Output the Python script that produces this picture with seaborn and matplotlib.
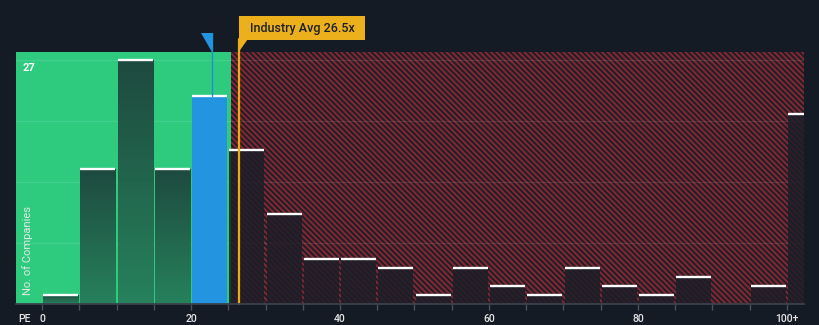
import numpy as np
import pandas as pd
import matplotlib
matplotlib.use("Agg")
import matplotlib.pyplot as plt
import matplotlib.transforms as mtransforms
from matplotlib.patches import Polygon, Rectangle
from matplotlib.colors import LinearSegmentedColormap
import seaborn as sns

# P/E distribution of peer companies (bins of width 5; last bin is 100+)
bin_starts = [0, 5, 10, 15, 20, 25, 30, 35, 40, 45, 50, 55, 60, 65, 70, 75, 80, 85, 90, 95, 100]
company_counts = [1, 15, 27, 15, 23, 17, 10, 5, 5, 4, 1, 4, 2, 1, 4, 2, 1, 3, 0, 2, 21]
tick_values = [0, 20, 40, 60, 80, 100]
tick_labels = ["0", "20", "40", "60", "80", "100+"]
company_pe = 22.8
industry_avg = 26.5
fair_upper = 25.4
y_label_value = 27

BG = "#151b25"
GREEN = "#2ecb7f"
BLUE = "#2394e0"
RED_HATCH = "#7a2832"
YELLOW = "#ecb01c"

sns.set_theme(style="dark")
plt.rcParams["font.family"] = ["Roboto", "DejaVu Sans"]
plt.rcParams["hatch.linewidth"] = 1.6

df = pd.DataFrame({"pe": np.array(bin_starts, dtype=float) + 2.5,
                   "n": np.array(company_counts, dtype=float)})
edges = [float(b) for b in bin_starts] + [105.0]

fig = plt.figure(figsize=(8.2, 3.25), dpi=100, facecolor=BG)
ax = fig.add_axes([16 / 820, 21 / 325, 788 / 820, 252 / 325])
ax.set_facecolor(BG)

sns.histplot(data=df, x="pe", weights="n", bins=edges, shrink=0.94, ax=ax,
             linewidth=0)
bars = list(ax.patches)
for p in bars:
    p.set_zorder(3)

x_lo, x_hi = -3.5, 102.3
y_top = 27.9

# valuation zones
ax.axvspan(x_lo, fair_upper, color=GREEN, lw=0, zorder=0)
ax.axvspan(fair_upper, x_hi + 5, facecolor="#1b1c26", edgecolor=RED_HATCH,
           hatch="\\" * 6, lw=0, zorder=0)

# horizontal guides
for g in np.linspace(0, y_label_value, 5)[1:]:
    ax.axhline(g, color="white", alpha=0.1, lw=0.9, zorder=1)

grad = LinearSegmentedColormap.from_list("bar", ["#1e4a3f", "#26815c"])
grad_img = np.linspace(0, 1, 64).reshape(-1, 1)

for p in bars:
    x0, w, h = p.get_x(), p.get_width(), p.get_height()
    if h <= 0:
        p.set_visible(False)
        continue
    if x0 <= company_pe < x0 + w + 0.3:
        p.set_facecolor(BLUE)
        p.set_alpha(1)
    elif x0 + w <= fair_upper:
        p.set_facecolor("none")
        im = ax.imshow(grad_img, cmap=grad, aspect="auto", origin="upper",
                       extent=[x0, x0 + w, 0, h], zorder=3)
        im.set_clip_path(p)
    else:
        p.set_facecolor("#1d1e28")
        p.set_alpha(0.86)
    ax.hlines(h, x0, x0 + w, color="white", lw=1.7, zorder=4)

ax.set_xlim(x_lo, x_hi)
ax.set_ylim(0, y_top)

trans = mtransforms.blended_transform_factory(ax.transData, ax.transAxes)

# company marker
blue_h = [p.get_height() for p in bars
          if p.get_x() <= company_pe < p.get_x() + p.get_width() + 0.3][0]
ax.axvline(company_pe, ymin=blue_h / y_top, ymax=1.075, color="#1f8fd6",
           lw=1.0, clip_on=False, zorder=5)
ax.add_patch(Polygon([(company_pe - 1.42, 1.075), (company_pe + 0.05, 1.075),
                      (company_pe + 0.05, 1.0)], closed=True, transform=trans,
                     facecolor=BLUE, edgecolor="none", clip_on=False, zorder=6))

# industry average marker and label
ax.axvline(industry_avg, ymin=0, ymax=1.05, color="#f0a818", lw=1.6,
           clip_on=False, zorder=5)
ax.add_patch(Rectangle((industry_avg - 0.1, 1.048), 17.0, 0.093, transform=trans,
                       facecolor=YELLOW, edgecolor="none", clip_on=False, zorder=6))
ax.add_patch(Polygon([(industry_avg - 0.1, 1.05), (industry_avg + 1.1, 1.05),
                      (industry_avg - 0.1, 1.0)], closed=True, transform=trans,
                     facecolor=YELLOW, edgecolor="none", clip_on=False, zorder=6))
ax.text(industry_avg + 8.4, 1.094, f"Industry Avg {industry_avg}x", transform=trans,
        ha="center", va="center", fontsize=9, color="#1b202a", weight="medium",
        zorder=7)

# axes decoration
for s in ["top", "right", "left"]:
    ax.spines[s].set_visible(False)
ax.spines["bottom"].set_visible(True)
ax.spines["bottom"].set_color("#3b414b")
ax.spines["bottom"].set_linewidth(1.3)
ax.spines["bottom"].set_zorder(6)

ticks = np.arange(0, 105, 5)
ax.set_xticks(ticks)
ax.set_xticklabels([tick_labels[tick_values.index(t)] if t in tick_values else ""
                    for t in ticks])
ax.tick_params(axis="x", length=4, width=1, color="#4a505a", labelcolor="#e6e6e6",
               labelsize=7.5, pad=3.5, bottom=True, direction="out")
for lbl in ax.get_xticklabels():
    lbl.set_fontweight("medium")
ax.set_yticks([])
ax.set_xlabel("")
ax.set_ylabel("")
ax.grid(False)

ax.text(0.008, 26.1, str(y_label_value),
        transform=mtransforms.blended_transform_factory(ax.transAxes, ax.transData),
        ha="left", va="center", fontsize=8, color="white", weight="bold", zorder=7)
ax.text(0.0146, 0.036, "No. of Companies", transform=ax.transAxes, rotation=90,
        ha="center", va="bottom", fontsize=8, color="#e8e8e8", zorder=7)
fig.text(18 / 820, 1 - 319 / 325, "PE", ha="left", va="center", fontsize=7.5,
         color="#e6e6e6", weight="medium")

fig.savefig("out.png", dpi=100, facecolor=BG)
